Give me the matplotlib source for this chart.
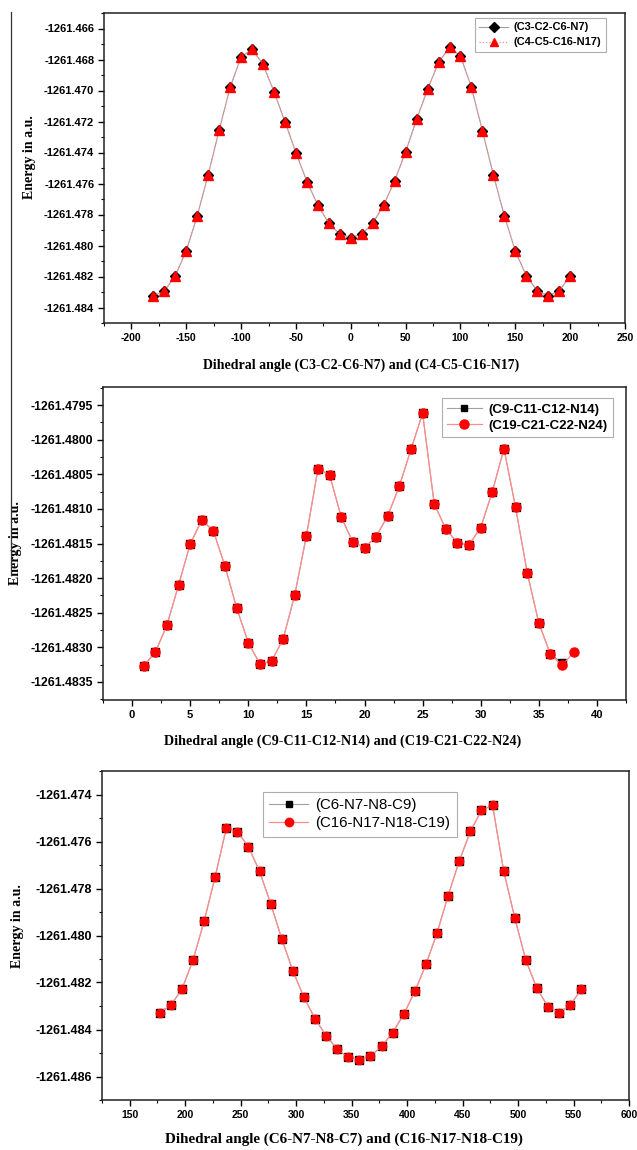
"""
Torsional energy scans for the three dihedral pairs, stacked in one column.

Output:
    out.png
"""
import matplotlib
matplotlib.use("Agg")
import matplotlib.pyplot as plt
from matplotlib.lines import Line2D
from matplotlib.ticker import FormatStrFormatter, MultipleLocator

plt.rcParams["axes.unicode_minus"] = False

W, H = 637, 1150

# scan 1: (C3-C2-C6-N7) and (C4-C5-C16-N17), both curves coincide
ANGLE_1 = [-180, -170, -160, -150, -140, -130, -120, -110, -100, -90,
           -80, -70, -60, -50, -40, -30, -20, -10, 0, 10,
           20, 30, 40, 50, 60, 70, 80, 90, 100, 110,
           120, 130, 140, 150, 160, 170, 180, 190, 200]
E_C3_C2_C6_N7 = [-1261.48325, -1261.48293, -1261.48196, -1261.48033, -1261.47809,
                 -1261.47543, -1261.47255, -1261.46980, -1261.46783, -1261.46733,
                 -1261.46832, -1261.47008, -1261.47202, -1261.47401, -1261.47588,
                 -1261.47740, -1261.47857, -1261.47927, -1261.47949, -1261.47927,
                 -1261.47857, -1261.47740, -1261.47582, -1261.47395, -1261.47186,
                 -1261.46993, -1261.46819, -1261.46722, -1261.46776, -1261.46980,
                 -1261.47260, -1261.47545, -1261.47809, -1261.48035, -1261.48196,
                 -1261.48293, -1261.48325, -1261.48293, -1261.48196]
E_C4_C5_C16_N17 = list(E_C3_C2_C6_N7)

# scan 2: (C9-C11-C12-N14) and (C19-C21-C22-N24)
STEP_2A = list(range(1, 38))
STEP_2B = list(range(1, 39))
E_C19_C21_C22_N24 = [-1261.48327, -1261.48307, -1261.48268, -1261.48210, -1261.48151,
                     -1261.48116, -1261.48132, -1261.48183, -1261.48243, -1261.48293,
                     -1261.48324, -1261.48320, -1261.48288, -1261.48224, -1261.48139,
                     -1261.48042, -1261.48051, -1261.48112, -1261.48148, -1261.48156,
                     -1261.48140, -1261.48110, -1261.48067, -1261.48014, -1261.47962,
                     -1261.48093, -1261.48129, -1261.48149, -1261.48152, -1261.48127,
                     -1261.48075, -1261.48013, -1261.48098, -1261.48192, -1261.48265,
                     -1261.48310, -1261.48326, -1261.48307]
E_C9_C11_C12_N14 = E_C19_C21_C22_N24[:36] + [-1261.48322]

# scan 3: (C6-N7-N8-C9) and (C16-N17-N18-C19)
ANGLE_3 = [177, 187, 197, 207, 217, 227, 237, 247, 257, 267,
           277, 287, 297, 307, 317, 327, 337, 347, 357, 367,
           377, 387, 397, 407, 417, 427, 437, 447, 457, 467,
           477, 487, 497, 507, 517, 527, 537, 547, 557]
E_C16_N17_N18_C19 = [-1261.48328, -1261.48297, -1261.48229, -1261.48105, -1261.47940,
                     -1261.47750, -1261.47544, -1261.47558, -1261.47622, -1261.47727,
                     -1261.47864, -1261.48014, -1261.48150, -1261.48263, -1261.48354,
                     -1261.48426, -1261.48484, -1261.48518, -1261.48528, -1261.48513,
                     -1261.48472, -1261.48413, -1261.48335, -1261.48238, -1261.48123,
                     -1261.47989, -1261.47830, -1261.47683, -1261.47557, -1261.47468,
                     -1261.47445, -1261.47725, -1261.47924, -1261.48105, -1261.48225,
                     -1261.48303, -1261.48328, -1261.48297, -1261.48229]
E_C6_N7_N8_C9 = list(E_C16_N17_N18_C19)

GRAY_LINE = "#a0a0a0"
PINK_LINE = "#ff8c8c"
RED = "#ff0000"
TICK_FONT = "Liberation Sans"
LABEL_FONT = "Liberation Serif"


def px_axes(fig, left, top, right, bottom):
    return fig.add_axes([left / W, 1 - bottom / H, (right - left) / W, (bottom - top) / H])


def style_axes(ax, xmaj, xmin, ymaj, ymin, yfmt, xfs, yfs):
    ax.xaxis.set_major_locator(MultipleLocator(xmaj))
    ax.xaxis.set_minor_locator(MultipleLocator(xmin))
    ax.yaxis.set_major_locator(MultipleLocator(ymaj))
    ax.yaxis.set_minor_locator(MultipleLocator(ymin))
    ax.yaxis.set_major_formatter(FormatStrFormatter(yfmt))
    ax.tick_params(which="major", direction="out", length=4, width=1.0, pad=3)
    ax.tick_params(which="minor", direction="out", length=2.5, width=0.8)
    for lab in ax.get_xticklabels():
        lab.set_fontfamily(TICK_FONT)
        lab.set_fontweight("bold")
        lab.set_fontsize(xfs)
    for lab in ax.get_yticklabels():
        lab.set_fontfamily(TICK_FONT)
        lab.set_fontweight("bold")
        lab.set_fontsize(yfs)
    for sp in ax.spines.values():
        sp.set_linewidth(1.1)
        sp.set_color("#222222")


def axis_labels(ax, xlabel, xfs, xlx, xly, ylx, yly):
    ax.set_xlabel(xlabel, fontfamily=LABEL_FONT, fontweight="bold", fontsize=xfs)
    ax.set_ylabel("Energy in a.u.", fontfamily=LABEL_FONT, fontweight="bold",
                  fontsize=10, rotation=90)
    ax.yaxis.set_label_coords(ylx, yly)
    ax.xaxis.set_label_coords(xlx, xly)


def legend_box(fig, handles, labels, left, top, fs, weight, spacing=0.3):
    leg = fig.legend(handles, labels, loc="upper left",
                     bbox_to_anchor=(left / W, 1 - top / H),
                     fontsize=fs, frameon=True, fancybox=False,
                     handlelength=2.6, handletextpad=0.5, borderpad=0.4,
                     labelspacing=spacing, borderaxespad=0)
    leg.get_frame().set_edgecolor("#9a9a9a")
    leg.get_frame().set_linewidth(0.8)
    for t in leg.get_texts():
        t.set_fontfamily(TICK_FONT)
        t.set_fontweight(weight)
    return leg


fig = plt.figure(figsize=(W / 100, H / 100), dpi=100)

# thin frame line running down the left margin
fig.add_artist(Line2D([11 / W, 11 / W], [1 - 12 / H, 1 - 575 / H],
                      color="#333333", linewidth=0.9))

# ---- panel 1
ax1 = px_axes(fig, 104, 13, 625, 323)
ax1.plot(ANGLE_1, E_C3_C2_C6_N7, color=GRAY_LINE, lw=0.8,
         marker="D", ms=5.5, mfc="black", mec="black", zorder=2)
ax1.plot(ANGLE_1, E_C4_C5_C16_N17, color=PINK_LINE, lw=0.9, ls=":",
         marker="^", ms=6.5, mfc=RED, mec=RED, zorder=3)
ax1.set_xlim(-225, 250)
ax1.set_ylim(-1261.485, -1261.465)
style_axes(ax1, 50, 25, 0.002, 0.001, "%.3f", 7.5, 8)
axis_labels(ax1, "Dihedral angle (C3-C2-C6-N7) and (C4-C5-C16-N17)", 10,
            0.494, -0.115, -0.13, 0.535)
h1 = [Line2D([], [], color=GRAY_LINE, lw=0.8, marker="D", ms=5, mfc="black", mec="black"),
      Line2D([], [], color=PINK_LINE, lw=0.9, ls=":", marker="^", ms=6, mfc=RED, mec=RED)]
legend_box(fig, h1, ["(C3-C2-C6-N7)", "(C4-C5-C16-N17)"], 475, 18, 8, "bold", 0.45)

# ---- panel 2
ax2 = px_axes(fig, 103, 387, 626, 700)
ax2.plot(STEP_2A, E_C9_C11_C12_N14, color=GRAY_LINE, lw=0.8,
         marker="s", ms=6, mfc="black", mec="black", zorder=2)
ax2.plot(STEP_2B, E_C19_C21_C22_N24, color=PINK_LINE, lw=0.9,
         marker="o", ms=6.5, mfc=RED, mec=RED, zorder=3)
ax2.set_xlim(-2.5, 42.5)
ax2.set_ylim(-1261.48376, -1261.47924)
style_axes(ax2, 5, 2.5, 0.0005, 0.00025, "%.4f", 8, 8.8)
axis_labels(ax2, "Dihedral angle (C9-C11-C12-N14) and (C19-C21-C22-N24)", 10.2,
            0.458, -0.11, -0.155, 0.5)
h2 = [Line2D([], [], color=GRAY_LINE, lw=0.8, marker="s", ms=5, mfc="black", mec="black"),
      Line2D([], [], color=PINK_LINE, lw=0.9, marker="o", ms=6.5, mfc=RED, mec=RED)]
legend_box(fig, h2, ["(C9-C11-C12-N14)", "(C19-C21-C22-N24)"], 442, 398, 9.5, "bold")

# ---- panel 3
ax3 = px_axes(fig, 102, 771, 629, 1100)
ax3.plot(ANGLE_3, E_C6_N7_N8_C9, color=GRAY_LINE, lw=0.8,
         marker="s", ms=5.5, mfc="black", mec="black", zorder=2)
ax3.plot(ANGLE_3, E_C16_N17_N18_C19, color=PINK_LINE, lw=0.9,
         marker="o", ms=6, mfc=RED, mec=RED, zorder=3)
ax3.set_xlim(125, 600)
ax3.set_ylim(-1261.487, -1261.473)
style_axes(ax3, 50, 25, 0.002, 0.001, "%.3f", 7.5, 9)
axis_labels(ax3, "Dihedral angle (C6-N7-N8-C7) and (C16-N17-N18-C19)", 10.9,
            0.46, -0.1, -0.148, 0.53)
h3 = [Line2D([], [], color=GRAY_LINE, lw=0.8, marker="s", ms=5, mfc="black", mec="black"),
      Line2D([], [], color=PINK_LINE, lw=0.9, marker="o", ms=6, mfc=RED, mec=RED)]
legend_box(fig, h3, ["(C6-N7-N8-C9)", "(C16-N17-N18-C19)"], 263, 792, 10.8, "normal")

fig.savefig("out.png", dpi=100)
